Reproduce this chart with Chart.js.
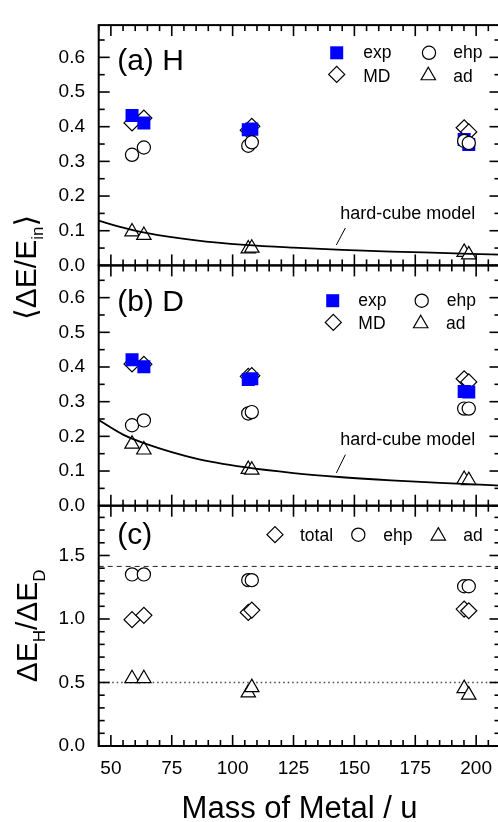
<!DOCTYPE html>
<html>
<head>
<meta charset="utf-8">
<script src="https://cdn.jsdelivr.net/npm/chart.js@4.4.1/dist/chart.umd.min.js"></script>
<style>
  html, body { margin: 0; padding: 0; background: #fff; overflow: hidden; }
  #wrap { width: 498px; height: 822px; overflow: hidden; }
  canvas { display: block; }
</style>
</head>
<body>
<div id="wrap"><canvas id="massChart" width="510" height="822" style="width:510px;height:822px"></canvas></div>
<script>
// metals on the x axis: Ni, Cu, Pd, Ag, Pt, Au (mass in u)
const metals = ['Ni', 'Cu', 'Pd', 'Ag', 'Pt', 'Au'];
const massU = [58.69, 63.55, 106.42, 107.87, 195.08, 196.97];

// (a) H  <dE/E_in>
const hExp = [0.432, 0.411, 0.391, 0.393, 0.363, 0.349];
const hMD  = [0.411, 0.425, 0.390, 0.401, 0.397, 0.385];
const hEhp = [0.319, 0.340, 0.345, 0.355, 0.359, 0.353];
const hAd  = [0.097, 0.087, 0.048, 0.050, 0.038, 0.031];

// (b) D  <dE/E_in>
const dExp = [0.421, 0.401, 0.364, 0.366, 0.329, 0.328];
const dMD  = [0.409, 0.408, 0.373, 0.375, 0.366, 0.357];
const dEhp = [0.232, 0.246, 0.266, 0.270, 0.280, 0.280];
const dAd  = [0.178, 0.161, 0.105, 0.103, 0.076, 0.073];

// (c) ratio dE_H / dE_D
const rTotal = [0.995, 1.029, 1.052, 1.070, 1.078, 1.065];
const rEhp   = [1.351, 1.351, 1.306, 1.306, 1.258, 1.258];
const rAd    = [0.531, 0.531, 0.419, 0.461, 0.453, 0.402];

// hard-cube model curves
const cubeMass = [45, 55, 65, 85, 105, 125, 145, 165, 185, 210];
const cubeH = [0.129, 0.109, 0.093, 0.072, 0.059, 0.051, 0.045, 0.040, 0.036, 0.031];
const cubeD = [0.247, 0.205, 0.177, 0.136, 0.111, 0.094, 0.082, 0.073, 0.066, 0.058];

// reference levels in (c)
const sqrt2Level = 1.414;
const halfLevel = 0.5;

// tick labels
const xTickVals = [50, 75, 100, 125, 150, 175, 200];
const eTickVals = [0, 0.1, 0.2, 0.3, 0.4, 0.5, 0.6];
const rTickVals = [0, 0.5, 1.0, 1.5];

const FONT = "'Liberation Sans', Arial, 'DejaVu Sans', sans-serif";
const font = (px) => px + 'px ' + FONT;
const pts = (xs, ys) => xs.map((x, i) => ({ x: x, y: ys[i] }));

// marker looks
const MK = {
    exp: { style: 'rect', r: 9.2, fill: '#0000ff', stroke: '#0000ff', bw: 0 },
    md:  { style: 'rectRot', r: 8, fill: '#fff', stroke: '#000', bw: 1.2 },
    ehp: { style: 'circle', r: 6.6, fill: '#fff', stroke: '#000', bw: 1.2 },
    ad:  { style: 'triangle', r: 8.3, fill: '#fff', stroke: '#000', bw: 1.2 }
};

function markerSet(data, mk, axis, order) {
    return {
        data: data,
        yAxisID: axis,
        order: order,
        pointStyle: mk.style,
        pointRadius: mk.r,
        pointBackgroundColor: mk.fill,
        pointBorderColor: mk.stroke,
        pointBorderWidth: mk.bw
    };
}

function lineSet(data, axis, opts) {
    return Object.assign({
        data: data,
        yAxisID: axis,
        order: 0,
        showLine: true,
        pointRadius: 0,
        borderColor: '#000',
        borderWidth: 1.8,
        cubicInterpolationMode: 'monotone'
    }, opts);
}

const datasets = [
    markerSet(pts(massU, hEhp), MK.ehp, 'yA', 1),
    markerSet(pts(massU, hExp), MK.exp, 'yA', 2),
    markerSet(pts(massU, hMD), MK.md, 'yA', 3),
    markerSet(pts(massU, hAd), MK.ad, 'yA', 4),
    lineSet(pts(cubeMass, cubeH), 'yA'),

    markerSet(pts(massU, dEhp), MK.ehp, 'yB', 1),
    markerSet(pts(massU, dExp), MK.exp, 'yB', 2),
    markerSet(pts(massU, dMD), MK.md, 'yB', 3),
    markerSet(pts(massU, dAd), MK.ad, 'yB', 4),
    lineSet(pts(cubeMass, cubeD), 'yB'),

    lineSet([{ x: 45, y: sqrt2Level }, { x: 210, y: sqrt2Level }], 'yC',
        { borderWidth: 1, borderColor: '#222', borderDash: [5, 4], order: 9 }),
    lineSet([{ x: 45, y: halfLevel }, { x: 210, y: halfLevel }], 'yC',
        { borderWidth: 1.4, borderColor: '#444', borderDash: [1.5, 3], order: 9 }),
    markerSet(pts(massU, rEhp), MK.ehp, 'yC', 1),
    markerSet(pts(massU, rTotal), MK.md, 'yC', 3),
    markerSet(pts(massU, rAd), MK.ad, 'yC', 4)
];

// panels, top to bottom, with their label/legend placement
const panels = [
    { id: 'yA', minor: 0.05, label: '(a) H', labelDy: 45,
      legend: [
        { mk: MK.exp, text: 'exp', mx: 238, tx: 264.5, my: 27.7, ty: 32.7 },
        { mk: MK.ehp, text: 'ehp', mx: 330.3, tx: 354.6, my: 27.7, ty: 32.7 },
        { mk: MK.md, text: 'MD', mx: 238, tx: 264.5, my: 49.3, ty: 56.5 },
        { mk: MK.ad, text: 'ad', mx: 329.6, tx: 354.6, my: 50.5, ty: 56.5 }
      ],
      cube: { lx: 144.2, ly: 0.134, from: [146.3, 0.108], to: [142.6, 0.059] } },
    { id: 'yB', minor: 0.05, label: '(b) D', labelDy: 45.3,
      legend: [
        { mk: MK.exp, text: 'exp', mx: 234, tx: 259.6, my: 35.3, ty: 40.3 },
        { mk: MK.ehp, text: 'ehp', mx: 323, tx: 348, my: 35.3, ty: 40.3 },
        { mk: MK.md, text: 'MD', mx: 234.6, tx: 259.6, my: 57, ty: 63.7 },
        { mk: MK.ad, text: 'ad', mx: 322, tx: 347.3, my: 58.2, ty: 63.7 }
      ],
      cube: { lx: 144.2, ly: 0.1737, from: [146.3, 0.1473], to: [142.6, 0.0946] } },
    { id: 'yC', minor: 0.1, label: '(c)', labelDy: 38.7,
      legend: [
        { mk: MK.md, text: 'total', mx: 176.3, tx: 201.3, my: 29, ty: 35.7 },
        { mk: MK.ehp, text: 'ehp', mx: 259.6, tx: 284.6, my: 29, ty: 35.7 },
        { mk: MK.ad, text: 'ad', mx: 339.6, tx: 364.6, my: 30.2, ty: 35.7 }
      ] }
];

function drawMarker(ctx, mk, x, y) {
    ctx.save();
    ctx.fillStyle = mk.fill;
    ctx.strokeStyle = mk.stroke;
    ctx.lineWidth = mk.bw;
    Chart.helpers.drawPoint(ctx, { pointStyle: mk.style, radius: mk.r, borderWidth: mk.bw, rotation: 0 }, x, y);
    ctx.restore();
}

// draw a row of text runs (for subscripts), centred on (x, y), optionally rotated
function richText(ctx, parts, x, y, rotate) {
    ctx.save();
    ctx.translate(x, y);
    if (rotate) ctx.rotate(-Math.PI / 2);
    ctx.textAlign = 'left';
    ctx.textBaseline = 'alphabetic';
    let w = 0;
    parts.forEach(p => { ctx.font = font(p.size); w += ctx.measureText(p.text).width; });
    let cx = -w / 2;
    parts.forEach(p => {
        ctx.font = font(p.size);
        ctx.fillText(p.text, cx, p.dy || 0);
        cx += ctx.measureText(p.text).width;
    });
    ctx.restore();
}

function tickLine(ctx, x1, y1, x2, y2) {
    ctx.beginPath();
    ctx.moveTo(x1, y1);
    ctx.lineTo(x2, y2);
    ctx.stroke();
}

const framePlugin = {
    id: 'frames',
    afterDraw(chart) {
        const ctx = chart.ctx;
        const left = chart.chartArea.left, right = chart.chartArea.right;
        const xs = chart.scales.x;
        ctx.save();
        ctx.strokeStyle = '#000';
        ctx.fillStyle = '#000';

        panels.forEach(p => {
            const ys = chart.scales[p.id];
            const top = ys.top, bottom = ys.bottom;

            // frame
            ctx.lineWidth = 2;
            ctx.strokeRect(left, top, right - left, bottom - top);

            // y ticks, inward on both sides
            ctx.lineWidth = 1.6;
            const nY = Math.floor(ys.max / p.minor + 1e-6);
            const majorEvery = Math.round((p.id === 'yC' ? 0.5 : 0.1) / p.minor);
            for (let i = 0; i <= nY; i++) {
                const y = ys.getPixelForValue(i * p.minor);
                const len = i % majorEvery === 0 ? 11 : 6;
                tickLine(ctx, left, y, left + len, y);
                tickLine(ctx, right, y, right - len, y);
            }
            // x ticks, inward on top and bottom of each panel
            for (let m = 45; m <= 210; m += 5) {
                const x = xs.getPixelForValue(m);
                const len = m % 25 === 0 ? 11 : 6;
                tickLine(ctx, x, top, x, top + len);
                tickLine(ctx, x, bottom, x, bottom - len);
            }

            // panel label
            ctx.font = font(30);
            ctx.textAlign = 'left';
            ctx.textBaseline = 'alphabetic';
            ctx.fillText(p.label, left + 18.5, top + p.labelDy);

            // legend
            ctx.font = font(17.5);
            p.legend.forEach(l => {
                drawMarker(ctx, l.mk, left + l.mx, top + l.my);
                ctx.fillStyle = '#000';
                ctx.fillText(l.text, left + l.tx, top + l.ty);
            });

            // hard-cube model label with its leader line
            if (p.cube) {
                ctx.font = font(18);
                ctx.fillText('hard-cube model', xs.getPixelForValue(p.cube.lx), ys.getPixelForValue(p.cube.ly));
                ctx.lineWidth = 1;
                tickLine(ctx, xs.getPixelForValue(p.cube.from[0]), ys.getPixelForValue(p.cube.from[1]),
                    xs.getPixelForValue(p.cube.to[0]), ys.getPixelForValue(p.cube.to[1]));
            }
        });

        // axis titles
        const yA = chart.scales.yA, yC = chart.scales.yC;
        richText(ctx, [
            { text: '\u27E8\u0394E/E', size: 30 },
            { text: 'in', size: 17, dy: 7 },
            { text: '\u27E9', size: 30 }
        ], 36, yA.bottom + 2, true);
        richText(ctx, [
            { text: '\u0394E', size: 30 },
            { text: 'H', size: 17, dy: 8 },
            { text: '/\u0394E', size: 30 },
            { text: 'D', size: 17, dy: 8 }
        ], 37, (yC.top + yC.bottom) / 2, true);
        richText(ctx, [{ text: 'Mass of Metal / u', size: 31 }], (left + right) / 2, 818, false);

        ctx.restore();
    }
};

function yScale(max, tickVals) {
    return {
        type: 'linear',
        position: 'left',
        stack: 'panels',
        stackWeight: 1,
        min: 0,
        max: max,
        grid: { display: false, drawTicks: false },
        border: { display: false },
        ticks: {
            padding: 13.7,
            color: '#000',
            autoSkip: false,
            font: { family: FONT, size: 19 },
            callback: (v) => Number(v).toFixed(1)
        },
        afterBuildTicks: (s) => { s.ticks = tickVals.map(v => ({ value: v })); },
        afterFit: (s) => { s.width = 98.7; }
    };
}

// stacked scales are laid out bottom-up, so (c) is declared first
new Chart(document.getElementById('massChart'), {
    type: 'scatter',
    data: { datasets: datasets },
    options: {
        responsive: false,
        animation: false,
        devicePixelRatio: 1,
        events: [],
        layout: { padding: { top: 14, right: 5, left: 0, bottom: 0 } },
        plugins: { legend: { display: false }, tooltip: { enabled: false } },
        scales: {
            x: {
                type: 'linear',
                position: 'bottom',
                min: 45,
                max: 210,
                grid: { display: false, drawTicks: false },
                border: { display: false },
                ticks: {
                    padding: 11,
                    color: '#000',
                    font: { family: FONT, size: 19 },
                    autoSkip: false,
                    maxRotation: 0
                },
                afterBuildTicks: (s) => { s.ticks = xTickVals.map(v => ({ value: v })); },
                afterFit: (s) => { s.height = 76; }
            },
            yC: yScale(1.892, rTickVals),
            yB: yScale(0.693, eTickVals),
            yA: yScale(0.693, eTickVals)
        }
    },
    plugins: [framePlugin]
});
</script>
</body>
</html>
